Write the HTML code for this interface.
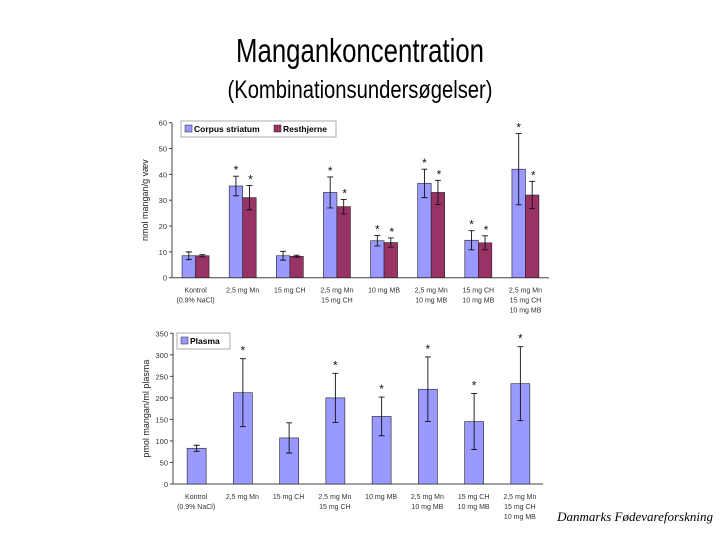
<!DOCTYPE html>
<html><head><meta charset="utf-8"><style>
html,body{margin:0;padding:0;background:#fff;}
svg{display:block;font-family:"Liberation Sans",Arial,sans-serif;}
</style></head><body>
<svg id="s" width="720" height="540" viewBox="0 0 720 540">
<text x="360" y="62" text-anchor="middle" font-size="33" textLength="248" lengthAdjust="spacingAndGlyphs">Mangankoncentration</text>
<text x="360" y="98" text-anchor="middle" font-size="25" textLength="265" lengthAdjust="spacingAndGlyphs">(Kombinationsundersøgelser)</text>
<text x="713" y="521" text-anchor="end" font-family="Liberation Serif,serif" font-style="italic" font-size="13">Danmarks Fødevareforskning</text>
<g id="top"></g>
<g id="bot"></g>
</svg>
<script>
const categories=[["Kontrol","(0.9% NaCl)"],["2,5 mg Mn"],["15 mg CH"],["2,5 mg Mn","15 mg CH"],["10 mg MB"],["2,5 mg Mn","10 mg MB"],["15 mg CH","10 mg MB"],["2,5 mg Mn","15 mg CH","10 mg MB"]];
const striatum=[8.5,35.5,8.5,33,14.3,36.5,14.5,42];
const striatumErr=[1.5,3.8,1.7,6,2,5.5,3.7,13.8];
const resthjerne=[8.5,31,8.3,27.5,13.6,33,13.5,32];
const resthjerneErr=[0.4,4.7,0.4,2.8,1.8,4.7,2.7,5.3];
const topStars=[false,true,false,true,true,true,true,true];
const topTicks=[0,10,20,30,40,50,60];
const plasma=[83,212,107,200,157,220,145,233];
const plasmaErr=[7,79,35,57,45,75,65,86];
const plasmaStars=[false,true,false,true,true,true,true,true];
const botTicks=[0,50,100,150,200,250,300,350];

const NS="http://www.w3.org/2000/svg";
function mk(p,t,a,txt){const e=document.createElementNS(NS,t);for(const k in a)e.setAttribute(k,a[k]);if(txt!==undefined)e.textContent=txt;p.appendChild(e);return e;}

function axes(g,x0,x1,y0,ytop,max,ticks,ylabel,yname){
  const ys=v=>y0-(v/max)*(y0-ytop);
  mk(g,'line',{x1:x0,y1:ytop,x2:x0,y2:y0,stroke:'#444','stroke-width':1});
  mk(g,'line',{x1:x0,y1:y0,x2:x1,y2:y0,stroke:'#444','stroke-width':1});
  ticks.forEach(t=>{
    mk(g,'line',{x1:x0-3,y1:ys(t),x2:x0,y2:ys(t),stroke:'#444'});
    const l=mk(g,'text',{x:x0-5,y:ys(t)+3,'text-anchor':'end','font-size':7.5,fill:'#333'},t);
    
    
  });
  const yl=mk(g,'text',{transform:`translate(${x0-24},${(y0+ytop)/2}) rotate(-90)`,'text-anchor':'middle','font-size':9,fill:'#222'},ylabel);
  
  
  const gw=(x1-x0)/categories.length;
  categories.forEach((c,i)=>{
    c.forEach((ln,j)=>{
      const t=mk(g,'text',{x:x0+gw*(i+0.5),y:y0+15+j*10,'text-anchor':'middle','font-size':7,fill:'#333'},ln);
      
      
    });
  });
  return {ys,gw};
}
function bar(g,x,w,v,e,ys,fill,name){
  const r=mk(g,'rect',{x:x,y:ys(v),width:w,height:ys(0)-ys(v),fill:fill,stroke:'#222','stroke-width':0.6});
  
  
  const cx=x+w/2;
  const eb=mk(g,'path',{d:`M${cx},${ys(v+e)}V${ys(v-e)}M${cx-3},${ys(v+e)}H${cx+3}M${cx-3},${ys(v-e)}H${cx+3}`,stroke:'#111','stroke-width':0.9,fill:'none'});
  
  
  return {cx,top:ys(v+e)};
}
function star(g,x,y){
  const s=mk(g,'text',{x:x,y:y,'text-anchor':'middle','font-size':12,fill:'#111'},'*');
  
  
}

// top chart
const T=document.getElementById('top');
mk(T,'rect',{x:135,y:113,width:420,height:205,fill:'#fff'});
const ta=axes(T,172,549,277.7,122.7,60,topTicks,'nmol mangan/g væv','y-axis-title-tissue');
striatum.forEach((v,i)=>{
  const gx=172+ta.gw*i+ta.gw/2;
  const a=bar(T,gx-13.5,13.5,v,striatumErr[i],ta.ys,'#9999ff','bar-corpus-striatum');
  const b=bar(T,gx,13.5,resthjerne[i],resthjerneErr[i],ta.ys,'#993366','bar-resthjerne');
  if(topStars[i]){star(T,a.cx,a.top-2);star(T,b.cx+1,b.top-2);}
});
const lg=mk(T,'g',{});


mk(lg,'rect',{x:181,y:121,width:155,height:16,fill:'#fff',stroke:'#888','stroke-width':0.7});
mk(lg,'rect',{x:185,y:125,width:7,height:7,fill:'#9999ff',stroke:'#222','stroke-width':0.5});
mk(lg,'text',{x:194,y:132,'font-size':8.5,'font-weight':'bold'},'Corpus striatum');
mk(lg,'rect',{x:274,y:125,width:7,height:7,fill:'#993366',stroke:'#222','stroke-width':0.5});
mk(lg,'text',{x:283,y:132,'font-size':8.5,'font-weight':'bold'},'Resthjerne');

// bottom chart
const B=document.getElementById('bot');
const ba=axes(B,173,543,484,333.3,350,botTicks,'pmol mangan/ml plasma','y-axis-title-plasma');
plasma.forEach((v,i)=>{
  const gx=173+ba.gw*i+ba.gw/2;
  const a=bar(B,gx-9,19,v,plasmaErr[i],ba.ys,'#9999ff','bar-plasma');
  if(plasmaStars[i])star(B,a.cx,a.top-4);
});
const lg2=mk(B,'g',{});


mk(lg2,'rect',{x:177,y:333,width:53,height:16,fill:'#fff',stroke:'#888','stroke-width':0.7});
mk(lg2,'rect',{x:181,y:337,width:7,height:7,fill:'#9999ff',stroke:'#222','stroke-width':0.5});
mk(lg2,'text',{x:190,y:344,'font-size':8.5,'font-weight':'bold'},'Plasma');
</script>
</body></html>
